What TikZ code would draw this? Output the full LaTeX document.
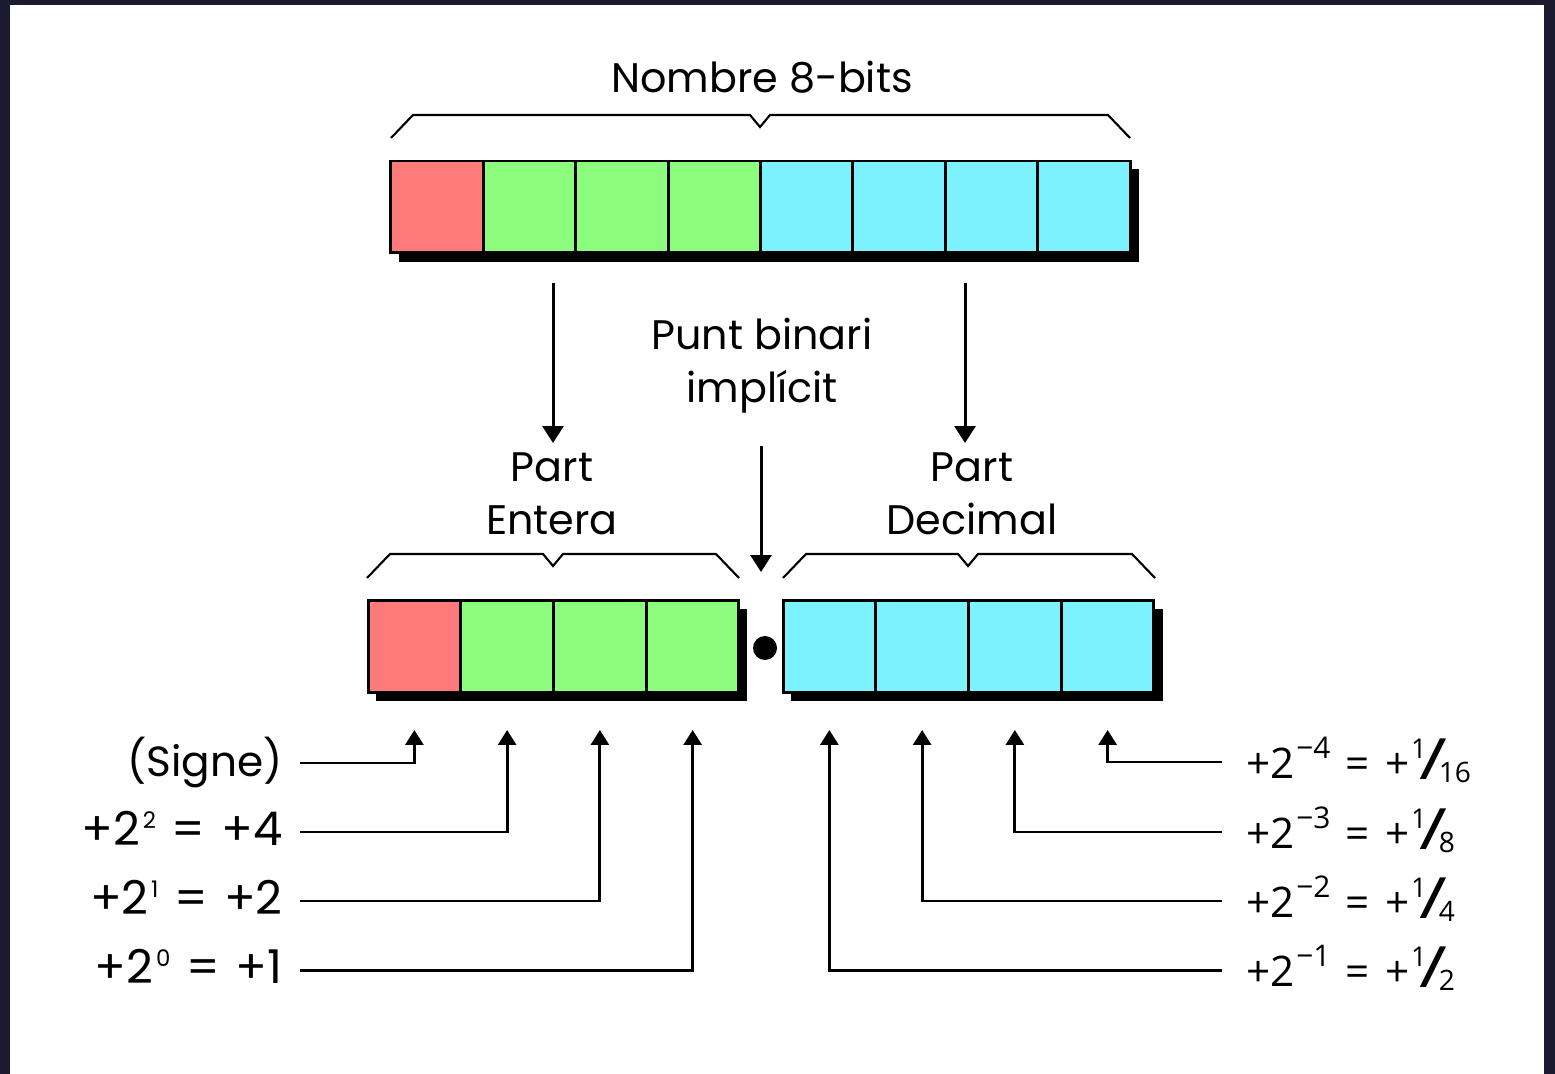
\documentclass[tikz,border=0pt]{standalone}
\usepackage{fontspec}
\usepackage{graphicx}
\setmainfont{Poppins}
\newfontfamily\rfont{Open Sans}
\usetikzlibrary{arrows.meta,calc}
\definecolor{bgdark}{HTML}{1C1A2E}
\definecolor{cred}{HTML}{FF7B7B}
\definecolor{cgreen}{HTML}{8CFC7C}
\definecolor{ccyan}{HTML}{7DF2FF}
\newcommand{\lsup}[1]{\kern1.5pt\raisebox{9.5pt}{\fontsize{13pt}{13pt}\selectfont #1}}
\newcommand{\lequal}{\hspace{2pt} = \hspace{2pt}}
\newcommand{\requal}{\hspace{2.5pt} = \hspace{2.5pt}}
\newcommand{\rsup}[1]{\kern1pt\raisebox{11pt}{\fontsize{17pt}{17pt}\selectfont #1}}
\newcommand{\rfr}[2]{\kern1pt\raisebox{11pt}{\fontsize{15.5pt}{15.5pt}\selectfont #1}\kern-4pt\raisebox{-1pt}{\scalebox{1.8}[1.35]{/}}\kern-5pt\raisebox{-2.5pt}{\fontsize{16pt}{16pt}\selectfont #2}}
\begin{document}
\begin{tikzpicture}[x=0.02cm,y=-0.02cm,
  cellbox/.style={draw=black,line width=1.7pt,inner sep=0pt,minimum width=1.85cm,minimum height=1.84cm},
  bracket/.style={draw=black,line width=1.2pt},
  lbl/.style={font=\fontsize{23.5pt}{30pt}\selectfont,align=center,inner sep=0pt},
  bigarrow/.style={draw=black,line width=1.7pt,-{Triangle[length=0.34cm,width=0.42cm]}},
  smallarrow/.style={draw=black,line width=1.7pt,-{Triangle[length=0.3cm,width=0.36cm]}},
  leftlbl/.style={font=\fontsize{26.5pt}{26.5pt}\selectfont,anchor=east,inner xsep=0.34cm,inner ysep=0pt,text height=0.52cm,text depth=0cm},
  rightlbl/.style={font=\rfont\fontsize{24pt}{24pt}\selectfont,anchor=west,inner xsep=0.48cm,inner ysep=0pt,text height=0.64cm,text depth=0cm}
]
% background
\fill[bgdark] (0,0) rectangle (1555,1074);
\fill[white] (10,5) rectangle (1544,1074);

% top bar
\fill[black] (399,169) rectangle (1139,262);
\foreach \i/\c in {1/cred,2/cgreen,3/cgreen,4/cgreen,5/ccyan,6/ccyan,7/ccyan,8/ccyan}{
  \node[cellbox,fill=\c] (t\i) at ({391+92.4*(\i-0.5)},207) {};
}
\draw[bracket] (391,138) -- (413,115) -- (750,115) -- (760,127) -- (770,115) -- (1108,115) -- (1130,138);
\node[lbl] (title) at (762,77) {Nombre 8-bits};

% middle labels
\node[lbl] (punt) at (762,366) {Punt binari\\impl\'icit};
\node[lbl] (entera) at (552,494) {Part\\Entera};
\node[lbl] (decimal) at (972,494) {Part\\Decimal};

\coordinate (aL) at (553,283);
\coordinate (aR) at (965,283);
\coordinate (aLe) at (553,443);
\coordinate (aRe) at (965,443);
\coordinate (aC) at (761,446);
\coordinate (aCe) at (761,572);
\draw[bigarrow] (aL) -- (aLe);
\draw[bigarrow] (aR) -- (aRe);
\draw[bigarrow] (aC) -- (aCe);

% bottom bars
\fill[black] (376,609) rectangle (747,701);
\fill[black] (791,609) rectangle (1163,701);
\foreach \i/\c in {1/cred,2/cgreen,3/cgreen,4/cgreen}{
  \node[cellbox,fill=\c] (b\i) at ({368+92.75*(\i-0.5)},646.5) {};
}
\foreach \i in {1,2,3,4}{
  \node[cellbox,fill=ccyan] (d\i) at ({783+92.75*(\i-0.5)},646.5) {};
}
\node[circle,fill=black,inner sep=0pt,minimum size=0.48cm] (dot) at (765,648) {};

\draw[bracket] (367,578) -- (390,554) -- (543,554) -- (553,566) -- (563,554) -- (716,554) -- (739,578);
\draw[bracket] (783,578) -- (806,554) -- (958,554) -- (968,566) -- (978,554) -- (1132,554) -- (1155,578);

% left labels
\node[leftlbl,font=\fontsize{24pt}{24pt}\selectfont] (lsign) at (300,763) {(Signe)};
\node[leftlbl] (ltwo) at (300,832) {+2\lsup{2}\lequal+4};
\node[leftlbl] (lone) at (300,901) {+2\lsup{1}\lequal+2};
\node[leftlbl] (lzero) at (300,970) {+2\lsup{0}\lequal+1};

\draw[smallarrow] (lsign.east) -| ($(b1.south)+(0,36)$);
\draw[smallarrow] (ltwo.east) -| ($(b2.south)+(0,36)$);
\draw[smallarrow] (lone.east) -| ($(b3.south)+(0,36)$);
\draw[smallarrow] (lzero.east) -| ($(b4.south)+(0,36)$);

% right labels
\node[rightlbl] (rfour) at (1222,762) {+2\rsup{−4}\requal+\rfr{1}{16}};
\node[rightlbl] (rthree) at (1222,832) {+2\rsup{−3}\requal+\rfr{1}{8}};
\node[rightlbl] (rtwo) at (1222,901) {+2\rsup{−2}\requal+\rfr{1}{4}};
\node[rightlbl] (rone) at (1222,970) {+2\rsup{−1}\requal+\rfr{1}{2}};

\draw[smallarrow] (rfour.west) -| ($(d4.south)+(0,36)$);
\draw[smallarrow] (rthree.west) -| ($(d3.south)+(0,36)$);
\draw[smallarrow] (rtwo.west) -| ($(d2.south)+(0,36)$);
\draw[smallarrow] (rone.west) -| ($(d1.south)+(0,36)$);
\end{tikzpicture}
\end{document}
